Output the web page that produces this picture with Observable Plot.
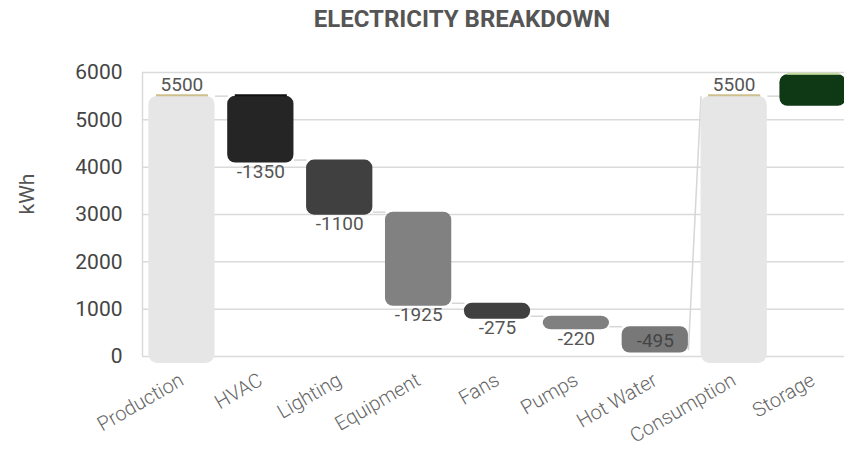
<!DOCTYPE html>
<html>
<head>
<meta charset="utf-8">
<script src="https://cdn.jsdelivr.net/npm/d3@7"></script>
<script src="https://cdn.jsdelivr.net/npm/@observablehq/plot@0.6"></script>
<style>
  html, body { margin: 0; padding: 0; background: #fff; overflow: hidden; }
  #wrap { width: 844px; height: 453px; overflow: hidden; font-family: Roboto, sans-serif; }
  #title { height: 40px; box-sizing: border-box; padding-top: 6px; padding-left: 80px; text-align: center;
           font: bold 24px Roboto, sans-serif; color: #555; line-height: 27px; white-space: nowrap; }
  #chart svg { display: block; max-width: none !important; height: 413px !important; }
</style>
</head>
<body>
<div id="wrap">
  <div id="title">ELECTRICITY BREAKDOWN</div>
  <div id="chart"></div>
</div>
<script>
const categories = ["Production", "HVAC", "Lighting", "Equipment", "Fans", "Pumps", "Hot Water", "Consumption", "Storage"];
const amounts = [5500, -1350, -1100, -1925, -275, -220, -495, 5500, 600];
const kinds = ["total", "delta", "delta", "delta", "delta", "delta", "delta", "total", "storage"];
const barColors = ["#e6e6e6", "#252525", "#404040", "#818181", "#404040", "#808080", "#787878", "#e6e6e6", "#0f3814"];
const topMarkColors = ["#cdbf8e", "#111111", null, null, null, null, null, "#cdbf8e", "#c4dc9c"];
const storageSpan = [5350, 5955];
const yTicks = [0, 1000, 2000, 3000, 4000, 5000, 6000];

const hw = 0.42; // half bar width in band units
const xDomain = [-0.5, categories.length - 0.5];

let running = 0;
const rows = categories.map((c, i) => {
  let start, end, before = running;
  if (kinds[i] === "total") { start = 0; end = amounts[i]; running = amounts[i]; }
  else if (kinds[i] === "delta") { start = running; end = running + amounts[i]; running = end; }
  else { start = storageSpan[0]; end = storageSpan[1]; }
  return { i, name: c, amount: amounts[i], kind: kinds[i], start, end, before,
           low: Math.min(start, end), high: Math.max(start, end),
           color: barColors[i], mark: topMarkColors[i] };
});

const links = [];
for (let i = 0; i < rows.length - 1; i++) {
  const a = rows[i], b = rows[i + 1];
  const to = b.kind === "total" ? b.end : b.kind === "storage" ? b.before : b.start;
  links.push({ x1: i + hw, x2: i + 1 - hw, y1: a.end, y2: to });
}

const totals = rows.filter(d => d.kind === "total");
const others = rows.filter(d => d.kind !== "total");
const storage = rows.filter(d => d.kind === "storage");
const deltasBelow = rows.filter(d => d.kind === "delta" && d.end >= 300);
const deltasInside = rows.filter(d => d.kind === "delta" && d.end < 300);
const marks = rows.filter(d => d.mark);

const chart = Plot.plot({
  width: 852,
  height: 413,
  marginTop: 32,
  marginBottom: 97,
  marginLeft: 142,
  marginRight: 0,
  style: { fontFamily: "Roboto, sans-serif", background: "#fff", maxWidth: "none" },
  x: { domain: xDomain },
  y: { domain: [0, 6000] },
  color: { type: "identity" },
  marks: [
    Plot.gridY(yTicks, { stroke: "#dadada", strokeOpacity: 1, strokeWidth: 1.5 }),
    Plot.ruleX([xDomain[0]], { y1: 0, y2: 6000, stroke: "#dadada", strokeWidth: 1.5 }),
    Plot.link(links, { x1: "x1", x2: "x2", y1: "y1", y2: "y2", stroke: "#d6d6d6", strokeWidth: 1.5 }),
    Plot.text(storage, { x: "i", y: "high", text: d => String(d.amount), dy: 7, fontSize: 19, fill: "#4a5a3a" }),
    Plot.rectY(totals, { x1: d => d.i - hw, x2: d => d.i + hw, y1: "low", y2: "high", fill: "color", rx: 9, insetBottom: -7 }),
    Plot.rectY(others, { x1: d => d.i - hw, x2: d => d.i + hw, y1: "low", y2: "high", fill: "color", rx: 8, insetBottom: -3 }),
    Plot.link(marks, { x1: d => d.i - 0.33, x2: d => d.i + 0.33, y1: "high", y2: "high", stroke: "mark", strokeWidth: 2, dy: -1 }),
    Plot.text(totals, { x: "i", y: "end", text: d => String(d.amount), fontSize: 19, fill: "#555", dy: -11 }),
    Plot.text(deltasBelow, { x: "i", y: "end", text: d => String(d.amount), fontSize: 19, fill: "#555", dy: 12 }),
    Plot.text(deltasInside, { x: "i", y: d => (d.start + d.end) / 2, text: d => String(d.amount), fontSize: 19, fill: "#444", dy: 3 }),
    Plot.axisY(yTicks, { tickSize: 0, tickPadding: 20, fontSize: 21, fill: "#444", label: null, tickFormat: d => String(d) }),
    Plot.axisX(d3.range(categories.length), {
      tickFormat: i => categories[i], tickRotate: -30, tickSize: 0, tickPadding: 22, dy: 0,
      fontSize: 20, fill: "#666", fontWeight: 300, label: null
    }),
    Plot.text(["kWh"], { frameAnchor: "left", dx: -115, rotate: -90, fontSize: 21, fill: "#555" })
  ]
});
document.getElementById("chart").appendChild(chart);
</script>
</body>
</html>
